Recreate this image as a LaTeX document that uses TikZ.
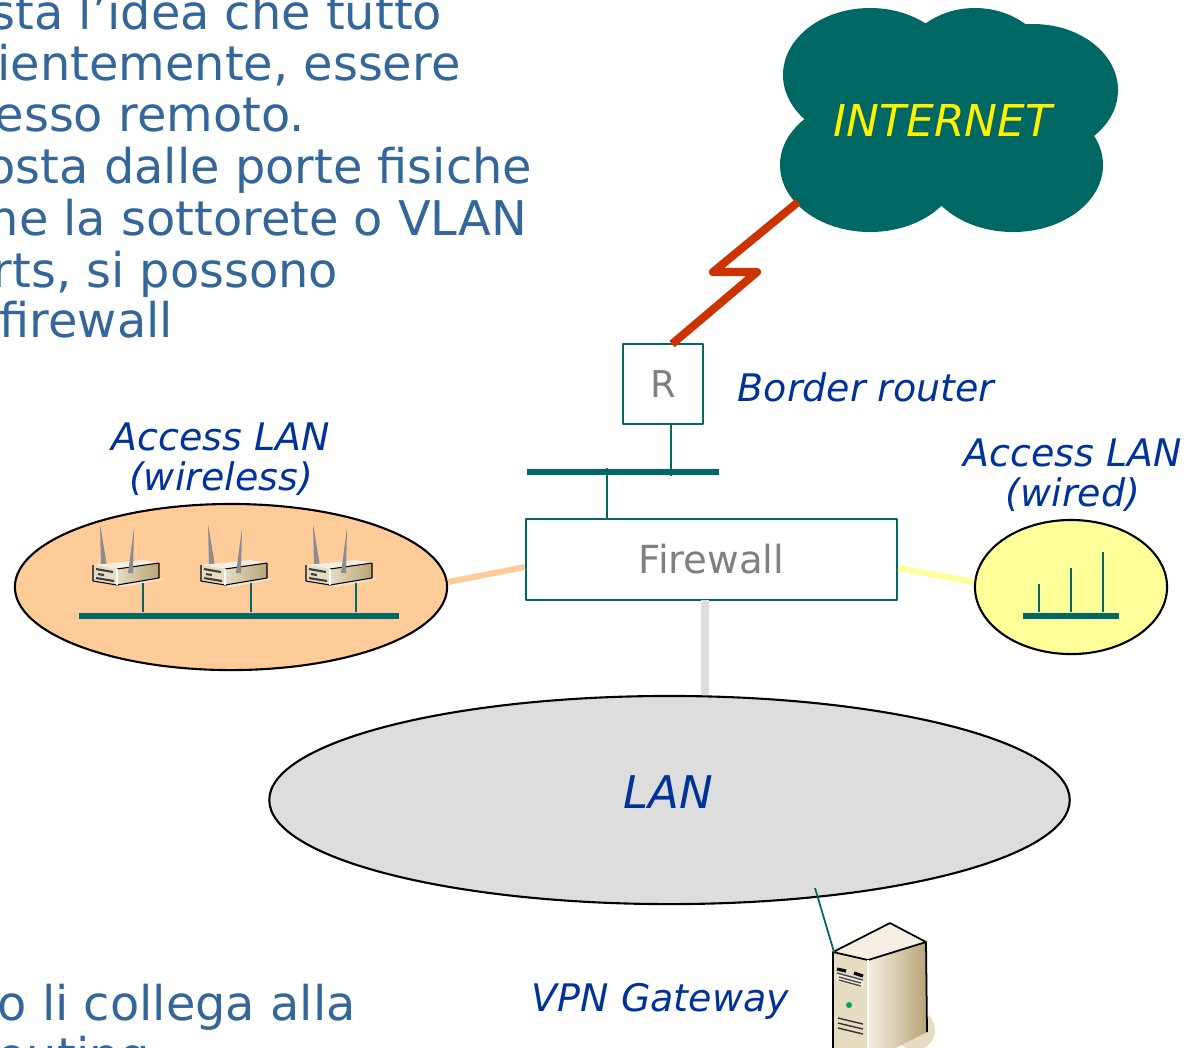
\documentclass[tikz,border=0pt]{standalone}
\usepackage{fontspec}
\setmainfont{DejaVu Sans}
\usetikzlibrary{shapes.geometric}

\definecolor{netteal}{HTML}{006666}
\definecolor{cloudteal}{HTML}{006864}
\definecolor{boltred}{HTML}{CC3300}
\definecolor{slideblue}{HTML}{336699}
\definecolor{labelblue}{HTML}{003399}
\definecolor{boxgray}{HTML}{808080}
\definecolor{wlfill}{HTML}{FFCC99}
\definecolor{wdfill}{HTML}{FFFF99}
\definecolor{lanfill}{HTML}{DDDDDD}
\definecolor{beigelight}{HTML}{F4EFE2}
\definecolor{beigemid}{HTML}{E6DCC2}
\definecolor{beigedark}{HTML}{B9A477}
\definecolor{antgray}{HTML}{8C8C8C}

\tikzset{
  link/.style={netteal, line width=0.45pt},
  bus/.style={fill=netteal, inner sep=0pt, minimum height=0.06cm},
  netbox/.style={draw=netteal, line width=0.6pt, fill=white, text=boxgray, inner sep=0pt},
  lanblob/.style={ellipse, draw=black, line width=0.6pt, inner sep=0pt},
  lbl/.style={text=labelblue, font=\itshape\fontsize{10.8}{11.4}\selectfont, inner sep=0pt},
  slidetext/.style={text=slideblue, font=\fontsize{13.6}{14.8}\selectfont, inner sep=0pt, anchor=base west},
  wire/.style={line width=1.7pt},
  % wireless access point, origin = upper front corner of the box
  accesspoint/.pic={
    \fill[antgray] (8,2) -- (7,-41) -- (14,1) -- cycle;
    \fill[beigelight] (0,0) -- (50,-5) -- (66,-2) -- (24,4) -- cycle;
    \fill[beigemid] (0,0) -- (24,4) -- (24,20) -- (0,16) -- cycle;
    \shade[left color=beigemid, right color=beigedark] (24,4) -- (66,-2) -- (66,13) -- (24,20) -- cycle;
    \fill[beigemid!70] (24,20) -- (66,13) -- (72,14) -- (30,22) -- cycle;
    \draw[black, line width=0.3pt] (24,4) -- (66,-2) (0,0) -- (0,16) -- (24,20) -- (66,13) -- (66,-2);
    \draw[white, line width=0.4pt] (24,4) -- (24,20);
    \draw[black!75, line width=0.6pt] (3,4) -- (20,7) (5,9) -- (11,10) (3,13) -- (21,16);
    \fill[antgray] (35,8) -- (41,-37) -- (40,8) -- cycle;
    \coordinate (-foot) at (50,18);
  },
  % tower server, origin = upper left corner of the front face
  server/.pic={
    \fill[beigemid] (82,78) ellipse [x radius=20, y radius=20];
    \fill[beigelight] (0,0) -- (57,-29) -- (93,-10) -- (35,8) -- cycle;
    \fill[beigemid] (0,0) -- (35,8) -- (35,110) -- (0,100) -- cycle;
    \shade[left color=beigelight, right color=beigedark] (35,8) -- (93,-10) -- (94,80) -- (35,110) -- cycle;
    \draw[black, line width=0.5pt] (0,100) -- (0,0) -- (57,-29) -- (93,-10) -- (94,80) (93,-10) -- (35,8) -- (0,0);
    \draw[white, line width=0.4pt] (35,8) -- (35,110);
    \draw[black, line width=0.9pt] (4,17) -- (13,19) (21,21) -- (30,24);
    \fill[beigelight] (4,21) -- (30,28) -- (30,36) -- (4,29) -- cycle;
    \draw[black!70, line width=0.4pt] (4,21) -- (30,28) (6,25) -- (28,31) (6,28) -- (28,34);
    \fill[teal!70!green] (16,53) circle [radius=3];
    \draw[black!80, line width=0.4pt] (5,66) -- (30,72) (5,71) -- (30,77) (5,76) -- (30,82);
    \coordinate (-top) at (1,0);
  }
}

\begin{document}
\begin{tikzpicture}[x=0.01cm, y=-0.01cm, line join=round]
  \useasboundingbox (0,0) rectangle (1186,1047);
  \clip (0,0) rectangle (1186,1047);

  % bullet text of the slide
  \foreach \i/\x/\y/\t in {1/-10/29/{sta l’idea che tutto}, 2/-3/80/{ientemente, essere},
      3/-6/131/{esso remoto.}, 4/-14/183/{osta dalle porte fisiche},
      5/-12/235/{ne la sottorete o VLAN}, 6/-8/287/{rts, si possono},
      7/-1/337/{firewall}, 8/-3/1020/{o li collega alla}, 9/-3/1072/{outing}}
    \node[slidetext] (txt\i) at (\x,\y) {\t};

  % cloud
  \fill[cloudteal] (870,75) ellipse [x radius=87, y radius=67]
    (975,80) ellipse [x radius=80, y radius=72]
    (1033,90) ellipse [x radius=85, y radius=66]
    (870,165) ellipse [x radius=90, y radius=67]
    (1013,165) ellipse [x radius=90, y radius=67]
    (950,125) ellipse [x radius=120, y radius=70];
  \node[text=yellow, font=\itshape\fontsize{12.5}{14}\selectfont] (inet) at (943,120) {INTERNET};

  % router, backbone, firewall
  \node[netbox, minimum width=0.8cm, minimum height=0.8cm, font=\fontsize{10.5}{12}\selectfont] (rtr) at (663,384) {R};
  \node[lbl, anchor=base west] (rtrlbl) at (737,401) {Border router};
  \node[bus, minimum width=1.92cm] (bbone) at (623,472) {};
  \node[netbox, minimum width=3.71cm, minimum height=0.81cm, font=\fontsize{11}{13}\selectfont] (fw) at (711.5,559.5) {Firewall};
  \coordinate (rtap) at (671,424);
  \coordinate (fwtap) at (607,519);
  \draw[link] (rtap) -- (rtap |- bbone.south);
  \draw[link] (fwtap) -- (fwtap |- bbone.north);

  % radio link to the internet
  \coordinate (cloudfoot) at (798,202);
  \coordinate (rtrtop) at (672,344);
  \draw[boltred, line width=2.3pt] (cloudfoot) -- (713,272) -- (757,272) -- (rtrtop);

  % access networks
  \node[lanblob, fill=wlfill, minimum width=4.32cm, minimum height=1.66cm] (wlan) at (231,587) {};
  \node[lanblob, fill=wdfill, minimum width=1.92cm, minimum height=1.34cm] (wdlan) at (1071,587) {};
  \node[lanblob, fill=lanfill, minimum width=8cm, minimum height=2.08cm] (lan) at (669.5,800) {};
  \node[lbl, align=center, anchor=north] (wllbl) at (221,422) {Access LAN\\(wireless)};
  \node[lbl, align=center, anchor=north] (wdlbl) at (1073,438) {Access LAN\\(wired)};
  \node[text=labelblue, font=\itshape\fontsize{12.8}{14}\selectfont] (lanlbl) at (668,792) {LAN};

  \draw[wire, wlfill] ([yshift=-0.075cm]fw.west) -- ([yshift=0.05cm]wlan.east);
  \draw[wire, wdfill] ([yshift=-0.085cm]fw.east) -- ([yshift=0.05cm]wdlan.west);
  \coordinate (fwfoot) at (705,600);
  \draw[line width=2.3pt, lanfill] (fwfoot) -- (fwfoot |- lan.north);

  % wireless segment
  \node[bus, minimum width=3.2cm] (wbus) at (239,616) {};
  \foreach \k/\x in {1/143, 2/251, 3/356} {
    \pic (ap\k) at (\x-50,565) {accesspoint};
    \draw[link] (ap\k-foot) -- (ap\k-foot |- wbus.north);
  }

  % wired segment
  \node[bus, minimum width=0.96cm] (wdbus) at (1071,616) {};
  \foreach \k/\x/\t in {1/1039/584, 2/1071/568, 3/1103/552}
    \draw[link] (\x,\t) coordinate (drop\k) -- (drop\k |- wdbus.north);

  % vpn gateway
  \coordinate (lanport) at (815,888);
  \pic (vpn) at (833,952) {server};
  \draw[link, line width=0.5pt] (lanport) -- (vpn-top);
  \node[lbl, anchor=base west] (vpnlbl) at (531,1011) {VPN Gateway};
\end{tikzpicture}
\end{document}
